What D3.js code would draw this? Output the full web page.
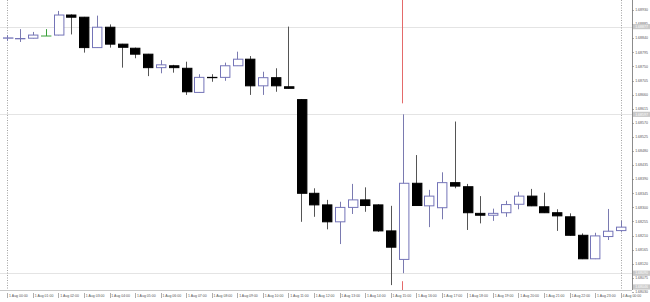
<!DOCTYPE html>
<html><head><meta charset="utf-8">
<script src="https://cdn.jsdelivr.net/npm/d3@7"></script>
<style>html,body{margin:0;padding:0;background:#fff;overflow:hidden}svg{display:block}</style>
</head><body><svg id="c" width="650" height="302"></svg>
<script>
const times = ["1 Aug 00:00","1 Aug 00:30","1 Aug 01:00","1 Aug 01:30","1 Aug 02:00","1 Aug 02:30","1 Aug 03:00","1 Aug 03:30","1 Aug 04:00","1 Aug 04:30","1 Aug 05:00","1 Aug 05:30","1 Aug 06:00","1 Aug 06:30","1 Aug 07:00","1 Aug 07:30","1 Aug 08:00","1 Aug 08:30","1 Aug 09:00","1 Aug 09:30","1 Aug 10:00","1 Aug 10:30","1 Aug 11:00","1 Aug 11:30","1 Aug 12:00","1 Aug 12:30","1 Aug 13:00","1 Aug 13:30","1 Aug 14:00","1 Aug 14:30","1 Aug 15:00","1 Aug 15:30","1 Aug 16:00","1 Aug 16:30","1 Aug 17:00","1 Aug 17:30","1 Aug 18:00","1 Aug 18:30","1 Aug 19:00","1 Aug 19:30","1 Aug 20:00","1 Aug 20:30","1 Aug 21:00","1 Aug 21:30","1 Aug 22:00","1 Aug 22:30","1 Aug 23:00","1 Aug 23:30","4 Aug 00:00"];
const open  = [1.68840,1.68838,1.68840,1.68847,1.68850,1.68914,1.68907,1.68810,1.68875,1.68821,1.68808,1.68789,1.68746,1.68752,1.68744,1.68667,1.68715,1.68715,1.68752,1.68773,1.68688,1.68714,1.68685,1.68644,1.68345,1.68308,1.68254,1.68300,1.68324,1.68308,1.68225,1.68134,1.68377,1.68305,1.68299,1.68379,1.68366,1.68281,1.68275,1.68283,1.68310,1.68336,1.68302,1.68283,1.68270,1.68211,1.68136,1.68207,1.68226];
const high  = [1.68850,1.68869,1.68860,1.68869,1.68927,1.68916,1.68908,1.68912,1.68884,1.68822,1.68810,1.68790,1.68770,1.68755,1.68765,1.68725,1.68725,1.68762,1.68797,1.68783,1.68733,1.68744,1.68877,1.68646,1.68361,1.68324,1.68318,1.68375,1.68364,1.68310,1.68305,1.68597,1.68467,1.68356,1.68412,1.68574,1.68375,1.68336,1.68296,1.68321,1.68350,1.68359,1.68347,1.68294,1.68281,1.68217,1.68219,1.68295,1.68257];
const low   = [1.68831,1.68828,1.68839,1.68847,1.68849,1.68852,1.68794,1.68809,1.68810,1.68746,1.68776,1.68719,1.68728,1.68730,1.68659,1.68666,1.68701,1.68704,1.68752,1.68659,1.68659,1.68669,1.68679,1.68254,1.68270,1.68230,1.68183,1.68279,1.68286,1.68222,1.68052,1.68090,1.68305,1.68237,1.68262,1.68361,1.68228,1.68249,1.68257,1.68270,1.68294,1.68304,1.68282,1.68225,1.68210,1.68135,1.68135,1.68196,1.68222];
const close = [1.68841,1.68839,1.68850,1.68847,1.68914,1.68907,1.68810,1.68875,1.68821,1.68811,1.68789,1.68746,1.68755,1.68746,1.68669,1.68715,1.68714,1.68752,1.68773,1.68688,1.68714,1.68688,1.68680,1.68345,1.68308,1.68254,1.68300,1.68324,1.68306,1.68225,1.68173,1.68377,1.68306,1.68336,1.68379,1.68368,1.68283,1.68275,1.68281,1.68309,1.68336,1.68305,1.68283,1.68273,1.68211,1.68136,1.68209,1.68224,1.68237];
const priceTicks = d3.range(0, 21).map(i => +(1.68930 - i * 0.00045).toFixed(5));
const hourLabels = times.filter(t => t.endsWith(":00"));
const levels = [1.68877, 1.68597, 1.68090];
const markers = [1.68877, 1.68597, 1.68090, 1.68046];
const vlineTime = "1 Aug 15:30";

const svg = d3.select("#c");
const plotRight = 632, plotBottom = 290;
const x = d3.scalePoint().domain(times).range([7.3, 620.7]);
const y = d3.scaleLinear().domain([1.68930, 1.68030]).range([10, 292]);
const bw = 9.4;
const font = "'Liberation Sans', Arial, sans-serif";

// horizontal level lines
svg.selectAll("line.lvl").data(levels).join("line")
  .attr("x1", 0).attr("x2", plotRight)
  .attr("y1", d => Math.round(y(d)) + 0.5).attr("y2", d => Math.round(y(d)) + 0.5)
  .attr("stroke", "#e4e4e4").attr("stroke-width", 1);

// period separators
svg.selectAll("line.sep").data([times[0], times[times.length - 1]]).join("line")
  .attr("x1", d => Math.round(x(d)) + 0.5).attr("x2", d => Math.round(x(d)) + 0.5)
  .attr("y1", 0).attr("y2", plotBottom)
  .attr("stroke", "#8a8a8a").attr("stroke-width", 0.8).attr("stroke-dasharray", "1,1.5");

// red vertical line
const vi = times.indexOf(vlineTime);
const vx = Math.round(x(vlineTime)) - 0.5;
svg.append("line").attr("x1", vx).attr("x2", vx).attr("y1", 0).attr("y2", y(high[vi]) - 11)
  .attr("stroke", "#e46a6a").attr("stroke-width", 1);
svg.append("line").attr("x1", vx).attr("x2", vx).attr("y1", y(low[vi]) + 8).attr("y2", plotBottom)
  .attr("stroke", "#e46a6a").attr("stroke-width", 1);

const data = times.map((t, i) => ({t, o: open[i], h: high[i], l: low[i], c: close[i]}));
const colOf = d => d.c === d.o ? "#3aa03a" : (d.c > d.o ? "#7474b8" : "#000");
const wickOf = d => d.c === d.o ? "#3aa03a" : (d.c > d.o ? "#7a7ab0" : "#555");

const g = svg.append("g");
g.selectAll("line.wick").data(data).join("line")
  .attr("x1", d => Math.round(x(d.t)) + 0.5).attr("x2", d => Math.round(x(d.t)) + 0.5)
  .attr("y1", d => y(d.h)).attr("y2", d => y(d.l))
  .attr("stroke", wickOf).attr("stroke-width", 1);

g.selectAll("rect.body").data(data).join("rect")
  .attr("x", d => Math.round(x(d.t) - bw / 2) + 0.5)
  .attr("width", bw)
  .attr("y", d => Math.min(y(d.o), y(d.c)))
  .attr("height", d => Math.max(0.01, Math.abs(y(d.o) - y(d.c))))
  .attr("fill", d => d.c > d.o ? "#fff" : (d.c < d.o ? "#000" : "none"))
  .attr("stroke", colOf).attr("stroke-width", 1);

// axes lines
svg.append("line").attr("x1", plotRight + 0.5).attr("x2", plotRight + 0.5).attr("y1", 0).attr("y2", plotBottom)
  .attr("stroke", "#8c8c8c");
svg.append("line").attr("x1", 0).attr("x2", plotRight).attr("y1", plotBottom + 0.5).attr("y2", plotBottom + 0.5)
  .attr("stroke", "#c8c8c8");

// right axis labels
const ya = svg.append("g");
ya.selectAll("line").data(priceTicks).join("line")
  .attr("x1", plotRight).attr("x2", plotRight + 2)
  .attr("y1", d => Math.round(y(d)) + 0.5).attr("y2", d => Math.round(y(d)) + 0.5)
  .attr("stroke", "#777").attr("stroke-width", 0.6);
ya.selectAll("text").data(priceTicks).join("text")
  .attr("x", plotRight + 3.2).attr("y", d => y(d) + 1.2)
  .attr("font-family", font).attr("font-size", 3.5).attr("fill", "#555")
  .text(d => d.toFixed(5));

// highlighted marker labels
const mk = svg.append("g");
mk.selectAll("rect").data(markers).join("rect")
  .attr("x", plotRight + 1).attr("width", 17).attr("y", d => y(d) - 2.6).attr("height", 5.2)
  .attr("fill", "#c9c9c9");
mk.selectAll("text").data(markers).join("text")
  .attr("x", plotRight + 3.2).attr("y", d => y(d) + 1.2)
  .attr("font-family", font).attr("font-size", 3.5).attr("fill", "#fff")
  .text(d => d.toFixed(5));

// bottom axis labels
const xa = svg.append("g");
xa.selectAll("line").data(hourLabels).join("line")
  .attr("x1", d => Math.round(x(d)) + 0.5).attr("x2", d => Math.round(x(d)) + 0.5)
  .attr("y1", plotBottom + 3).attr("y2", plotBottom + 8)
  .attr("stroke", "#777").attr("stroke-width", 0.6);
xa.selectAll("text").data(hourLabels).join("text")
  .attr("x", d => x(d) + 1.8).attr("y", plotBottom + 7.2)
  .attr("font-family", font).attr("font-size", 3.5).attr("fill", "#555")
  .text(d => d);
</script></body></html>
